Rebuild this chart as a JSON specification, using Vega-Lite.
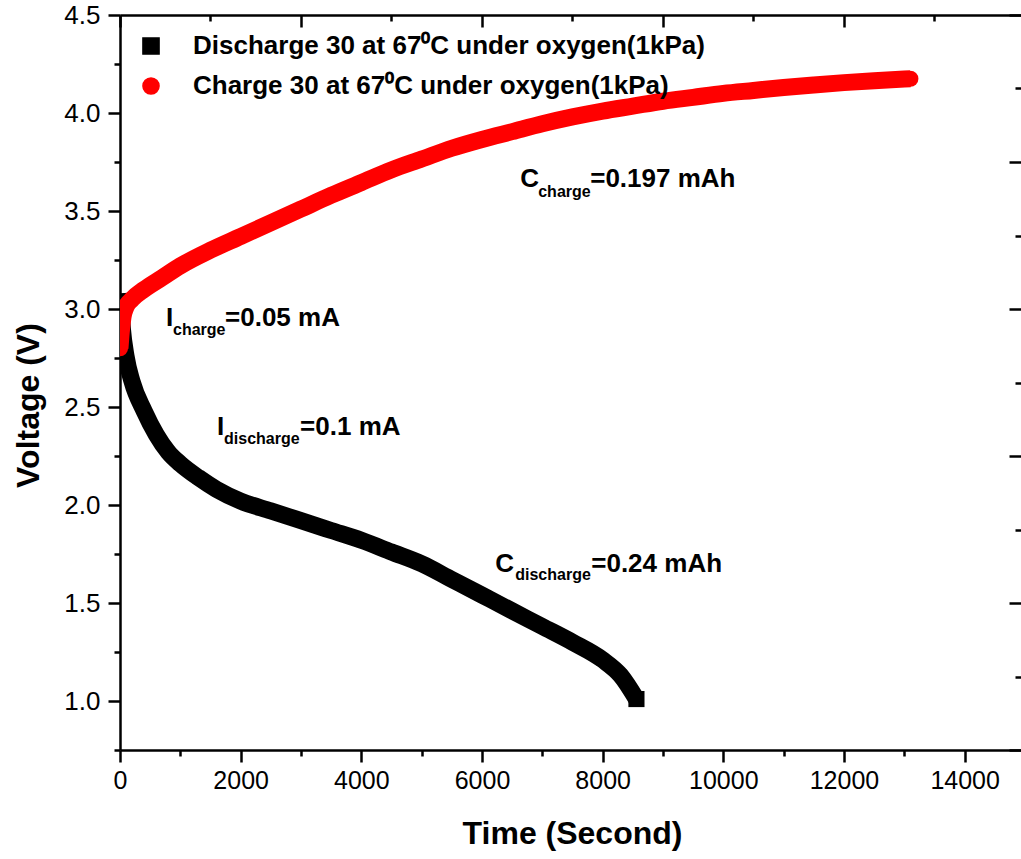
{
  "$schema": "https://vega.github.io/schema/vega-lite/v6.json",
  "autosize": "none",
  "padding": {"left": 120, "top": 15, "right": 0, "bottom": 109},
  "width": 901,
  "height": 735,
  "background": "white",
  "datasets": {
    "curves": [
      {"series": "Discharge 30 at 67⁰C under oxygen(1kPa)", "t": 0, "v": 3.08},
      {"series": "Discharge 30 at 67⁰C under oxygen(1kPa)", "t": 40, "v": 2.9},
      {"series": "Discharge 30 at 67⁰C under oxygen(1kPa)", "t": 100, "v": 2.76},
      {"series": "Discharge 30 at 67⁰C under oxygen(1kPa)", "t": 200, "v": 2.63},
      {"series": "Discharge 30 at 67⁰C under oxygen(1kPa)", "t": 400, "v": 2.48},
      {"series": "Discharge 30 at 67⁰C under oxygen(1kPa)", "t": 600, "v": 2.36},
      {"series": "Discharge 30 at 67⁰C under oxygen(1kPa)", "t": 800, "v": 2.27},
      {"series": "Discharge 30 at 67⁰C under oxygen(1kPa)", "t": 1000, "v": 2.21},
      {"series": "Discharge 30 at 67⁰C under oxygen(1kPa)", "t": 1300, "v": 2.14},
      {"series": "Discharge 30 at 67⁰C under oxygen(1kPa)", "t": 1600, "v": 2.08},
      {"series": "Discharge 30 at 67⁰C under oxygen(1kPa)", "t": 2000, "v": 2.02},
      {"series": "Discharge 30 at 67⁰C under oxygen(1kPa)", "t": 2500, "v": 1.97},
      {"series": "Discharge 30 at 67⁰C under oxygen(1kPa)", "t": 3000, "v": 1.92},
      {"series": "Discharge 30 at 67⁰C under oxygen(1kPa)", "t": 3500, "v": 1.87},
      {"series": "Discharge 30 at 67⁰C under oxygen(1kPa)", "t": 4000, "v": 1.82},
      {"series": "Discharge 30 at 67⁰C under oxygen(1kPa)", "t": 4500, "v": 1.76},
      {"series": "Discharge 30 at 67⁰C under oxygen(1kPa)", "t": 5000, "v": 1.7},
      {"series": "Discharge 30 at 67⁰C under oxygen(1kPa)", "t": 5500, "v": 1.62},
      {"series": "Discharge 30 at 67⁰C under oxygen(1kPa)", "t": 6000, "v": 1.54},
      {"series": "Discharge 30 at 67⁰C under oxygen(1kPa)", "t": 6500, "v": 1.46},
      {"series": "Discharge 30 at 67⁰C under oxygen(1kPa)", "t": 7000, "v": 1.38},
      {"series": "Discharge 30 at 67⁰C under oxygen(1kPa)", "t": 7500, "v": 1.3},
      {"series": "Discharge 30 at 67⁰C under oxygen(1kPa)", "t": 8000, "v": 1.21},
      {"series": "Discharge 30 at 67⁰C under oxygen(1kPa)", "t": 8300, "v": 1.13},
      {"series": "Discharge 30 at 67⁰C under oxygen(1kPa)", "t": 8560, "v": 1.01},
      {"series": "Charge 30 at 67⁰C under oxygen(1kPa)", "t": 0, "v": 2.8},
      {"series": "Charge 30 at 67⁰C under oxygen(1kPa)", "t": 20, "v": 2.88},
      {"series": "Charge 30 at 67⁰C under oxygen(1kPa)", "t": 50, "v": 2.96},
      {"series": "Charge 30 at 67⁰C under oxygen(1kPa)", "t": 100, "v": 3.01},
      {"series": "Charge 30 at 67⁰C under oxygen(1kPa)", "t": 200, "v": 3.05},
      {"series": "Charge 30 at 67⁰C under oxygen(1kPa)", "t": 400, "v": 3.1},
      {"series": "Charge 30 at 67⁰C under oxygen(1kPa)", "t": 700, "v": 3.16},
      {"series": "Charge 30 at 67⁰C under oxygen(1kPa)", "t": 1000, "v": 3.22},
      {"series": "Charge 30 at 67⁰C under oxygen(1kPa)", "t": 1500, "v": 3.3},
      {"series": "Charge 30 at 67⁰C under oxygen(1kPa)", "t": 2000, "v": 3.37},
      {"series": "Charge 30 at 67⁰C under oxygen(1kPa)", "t": 2500, "v": 3.44},
      {"series": "Charge 30 at 67⁰C under oxygen(1kPa)", "t": 3000, "v": 3.51},
      {"series": "Charge 30 at 67⁰C under oxygen(1kPa)", "t": 3500, "v": 3.58},
      {"series": "Charge 30 at 67⁰C under oxygen(1kPa)", "t": 4000, "v": 3.645},
      {"series": "Charge 30 at 67⁰C under oxygen(1kPa)", "t": 4500, "v": 3.71},
      {"series": "Charge 30 at 67⁰C under oxygen(1kPa)", "t": 5000, "v": 3.765},
      {"series": "Charge 30 at 67⁰C under oxygen(1kPa)", "t": 5500, "v": 3.82},
      {"series": "Charge 30 at 67⁰C under oxygen(1kPa)", "t": 6000, "v": 3.865},
      {"series": "Charge 30 at 67⁰C under oxygen(1kPa)", "t": 6500, "v": 3.905},
      {"series": "Charge 30 at 67⁰C under oxygen(1kPa)", "t": 7000, "v": 3.945},
      {"series": "Charge 30 at 67⁰C under oxygen(1kPa)", "t": 7500, "v": 3.98},
      {"series": "Charge 30 at 67⁰C under oxygen(1kPa)", "t": 8000, "v": 4.01},
      {"series": "Charge 30 at 67⁰C under oxygen(1kPa)", "t": 8500, "v": 4.035},
      {"series": "Charge 30 at 67⁰C under oxygen(1kPa)", "t": 9000, "v": 4.06},
      {"series": "Charge 30 at 67⁰C under oxygen(1kPa)", "t": 9500, "v": 4.08},
      {"series": "Charge 30 at 67⁰C under oxygen(1kPa)", "t": 10000, "v": 4.1},
      {"series": "Charge 30 at 67⁰C under oxygen(1kPa)", "t": 10500, "v": 4.115},
      {"series": "Charge 30 at 67⁰C under oxygen(1kPa)", "t": 11000, "v": 4.13},
      {"series": "Charge 30 at 67⁰C under oxygen(1kPa)", "t": 11500, "v": 4.143},
      {"series": "Charge 30 at 67⁰C under oxygen(1kPa)", "t": 12000, "v": 4.155},
      {"series": "Charge 30 at 67⁰C under oxygen(1kPa)", "t": 12500, "v": 4.165},
      {"series": "Charge 30 at 67⁰C under oxygen(1kPa)", "t": 13100, "v": 4.175}
    ],
    "labels": [
      {"x": 763, "y": 2.914, "text": "I"},
      {"x": 1741, "y": 2.914, "text": "=0.05 mA"},
      {"x": 1609, "y": 2.358, "text": "I"},
      {"x": 2985, "y": 2.358, "text": "=0.1 mA"},
      {"x": 6633, "y": 3.623, "text": "C"},
      {"x": 7794, "y": 3.623, "text": "=0.197 mAh"},
      {"x": 6219, "y": 1.66, "text": "C"},
      {"x": 7811, "y": 1.66, "text": "=0.24 mAh"}
    ],
    "subs": [
      {"x": 879, "y": 2.868, "text": "charge"},
      {"x": 1725, "y": 2.312, "text": "discharge"},
      {"x": 6932, "y": 3.572, "text": "charge"},
      {"x": 6551, "y": 1.619, "text": "discharge"}
    ]
  },
  "resolve": {"axis": {"x": "independent", "y": "independent"}},
  "layer": [
    {
      "data": {"name": "curves"},
      "transform": [{"filter": "datum.t >= 200"}],
      "mark": {"type": "point", "filled": true, "size": 140, "opacity": 1},
      "encoding": {
        "x": {"field": "t", "type": "quantitative", "scale": {"domain": [0, 14934], "nice": false, "zero": false},
          "axis": {"orient": "bottom", "values": [0, 2000, 4000, 6000, 8000, 10000, 12000, 14000], "format": "d", "tickSize": 12, "labelPadding": 6, "labelFontSize": 25, "labelFlush": false, "labelOverlap": false,
            "title": "Time (Second)", "titleX": 452, "titleY": 83, "titleAlign": "center", "titleBaseline": "middle"}},
        "y": {"field": "v", "type": "quantitative", "scale": {"domain": [0.75, 4.5], "nice": false, "zero": false},
          "axis": {"orient": "left", "values": [1, 1.5, 2, 2.5, 3, 3.5, 4, 4.5], "format": ".1f", "tickSize": 12, "labelPadding": 8, "labelFontSize": 26, "labelFlush": false, "labelOverlap": false,
            "title": "Voltage (V)", "titleX": -92, "titleY": 390, "titleAngle": 270, "titleAlign": "center", "titleBaseline": "middle"}},
        "color": {"field": "series", "type": "nominal", "scale": {"domain": ["Discharge 30 at 67⁰C under oxygen(1kPa)", "Charge 30 at 67⁰C under oxygen(1kPa)"], "range": ["#000000", "#ff0000"]},
          "legend": {"orient": "top-left", "offset": 12, "padding": 6, "title": null, "labelFont": "Liberation Sans", "labelFontWeight": "bold", "labelFontSize": 26, "labelColor": "black", "labelLimit": 1000, "labelOffset": 29, "rowPadding": 14, "symbolSize": 260}},
        "shape": {"field": "series", "type": "nominal", "scale": {"domain": ["Discharge 30 at 67⁰C under oxygen(1kPa)", "Charge 30 at 67⁰C under oxygen(1kPa)"], "range": ["square", "circle"]},
          "legend": {"orient": "top-left", "offset": 12, "padding": 6, "title": null, "labelFont": "Liberation Sans", "labelFontWeight": "bold", "labelFontSize": 26, "labelColor": "black", "labelLimit": 1000, "labelOffset": 29, "rowPadding": 14, "symbolSize": 260}}
      }
    },
    {
      "data": {"name": "curves"},
      "mark": {"type": "line", "strokeWidth": 17, "interpolate": "monotone", "clip": true},
      "encoding": {
        "x": {"field": "t", "type": "quantitative", "scale": {"domain": [0, 14934], "nice": false, "zero": false},
          "axis": {"orient": "bottom", "values": [1000, 3000, 5000, 7000, 9000, 11000, 13000], "tickSize": 6, "labels": false, "domain": false, "title": null}},
        "y": {"field": "v", "type": "quantitative", "scale": {"domain": [0.75, 4.5], "nice": false, "zero": false},
          "axis": {"orient": "left", "values": [0.75, 1.25, 1.75, 2.25, 2.75, 3.25, 3.75, 4.25], "tickSize": 6, "labels": false, "domain": false, "title": null}},
        "stroke": {"field": "series", "type": "nominal", "scale": {"domain": ["Discharge 30 at 67⁰C under oxygen(1kPa)", "Charge 30 at 67⁰C under oxygen(1kPa)"], "range": ["#000000", "#ff0000"]}, "legend": null}
      }
    },
    {
      "data": {"name": "curves"},
      "transform": [{"filter": "(datum.series === 'Charge 30 at 67⁰C under oxygen(1kPa)' && (datum.t === 0 || datum.t === 13100)) || (datum.series === 'Discharge 30 at 67⁰C under oxygen(1kPa)' && datum.t === 8560)"}],
      "mark": {"type": "point", "filled": true, "size": 260, "opacity": 1, "clip": true},
      "encoding": {
        "x": {"field": "t", "type": "quantitative", "scale": {"domain": [0, 14934], "nice": false, "zero": false}, "axis": null},
        "y": {"field": "v", "type": "quantitative", "scale": {"domain": [0.75, 4.5], "nice": false, "zero": false}, "axis": null},
        "fill": {"field": "series", "type": "nominal", "scale": {"domain": ["Discharge 30 at 67⁰C under oxygen(1kPa)", "Charge 30 at 67⁰C under oxygen(1kPa)"], "range": ["#000000", "#ff0000"]}, "legend": null},
        "shape": {"field": "series", "type": "nominal", "scale": {"domain": ["Discharge 30 at 67⁰C under oxygen(1kPa)", "Charge 30 at 67⁰C under oxygen(1kPa)"], "range": ["square", "circle"]}}
      }
    },
    {
      "data": {"name": "labels"},
      "mark": {"type": "text", "align": "left", "baseline": "alphabetic", "font": "Liberation Sans", "fontWeight": "bold", "fontSize": 26, "color": "black"},
      "encoding": {
        "x": {"field": "x", "type": "quantitative", "scale": {"domain": [0, 14934], "nice": false, "zero": false},
          "axis": {"orient": "top", "values": [0, 3000, 6000, 9000, 12000], "tickSize": -12, "labels": false, "domain": true, "title": null}},
        "y": {"field": "y", "type": "quantitative", "scale": {"domain": [0.75, 4.5], "nice": false, "zero": false},
          "axis": {"orient": "right", "values": [0.75, 1.5, 2.25, 3, 3.75, 4.5], "tickSize": -12, "labels": false, "domain": false, "title": null}},
        "text": {"field": "text", "type": "nominal"}
      }
    },
    {
      "data": {"name": "subs"},
      "mark": {"type": "text", "align": "left", "baseline": "alphabetic", "font": "Liberation Sans", "fontWeight": "bold", "fontSize": 16, "color": "black"},
      "encoding": {
        "x": {"field": "x", "type": "quantitative", "scale": {"domain": [0, 14934], "nice": false, "zero": false},
          "axis": {"orient": "top", "values": [1500, 4500, 7500, 10500, 13500], "tickSize": -6, "labels": false, "domain": false, "title": null}},
        "y": {"field": "y", "type": "quantitative", "scale": {"domain": [0.75, 4.5], "nice": false, "zero": false},
          "axis": {"orient": "right", "values": [1.125, 1.875, 2.625, 3.375, 4.125], "tickSize": -6, "labels": false, "domain": false, "title": null}},
        "text": {"field": "text", "type": "nominal"}
      }
    }
  ],
  "config": {
    "view": {"stroke": null},
    "axis": {"grid": false, "domainColor": "black", "domainWidth": 2.5, "tickColor": "black", "tickWidth": 2.5,
      "labelFont": "Liberation Sans", "labelColor": "black", "titleFont": "Liberation Sans", "titleColor": "black", "titleFontWeight": "bold", "titleFontSize": 32}
  }
}
